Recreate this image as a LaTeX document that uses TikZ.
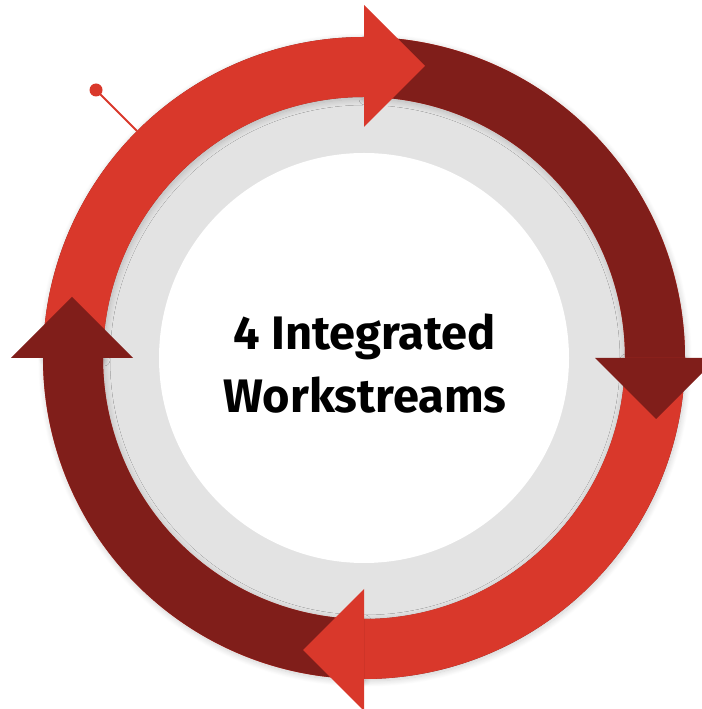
\documentclass[tikz,border=0pt]{standalone}
\usepackage{fontspec}
\setmainfont{Fira Sans}
\usetikzlibrary{calc,shadows.blur}
\definecolor{lred}{RGB}{217,56,43}
\definecolor{dred}{RGB}{128,30,26}
\definecolor{ringgray}{RGB}{227,227,227}
\tikzset{
  bandshadow/.style={blur shadow={shadow xshift=1pt, shadow yshift=-2pt, shadow blur radius=6pt, shadow blur steps=14, shadow opacity=20}},
  titletext/.style={font=\bfseries\fontsize{47}{63}\selectfont, align=center, text=black, inner sep=0pt},
}
\newcommand{\bandsector}[4]{% color, start angle, end angle, style
  \fill[#1,#4] ($(c)+(#2:321)$) arc[start angle=#2, end angle=#3, radius=321]
     -- ($(c)+(#3:261)$) arc[start angle=#3, end angle=#2, radius=261] -- cycle;}
\newcommand{\bandhead}[2]{% color, angle
  \fill[#1] ($(c)+(#2:231)$) -- ($(c)+(#2:353)$)
     -- ($(c)+(#2:292)+(#2-90:61)$) -- cycle;}
\begin{document}
\begin{tikzpicture}[x=1pt,y=1pt]
\useasboundingbox (0,0) rectangle (701,709);
\coordinate (c) at (364,351);
% gray ring and white centre
\fill[ringgray] (c) circle[radius=263];
\fill[white] (c) circle[radius=205];
% band shadows
\bandsector{dred}{0}{-90}{bandshadow}
\bandsector{lred}{-90}{-180}{bandshadow}
\bandsector{dred}{-180}{-270}{bandshadow}
\bandsector{lred}{90}{0}{bandshadow}
% band bodies: top light, right dark, bottom light, left dark
\bandsector{lred}{180}{89}{}
\bandsector{dred}{90}{-1}{}
\bandsector{lred}{0}{-91}{}
\bandsector{dred}{-90}{-181}{}
% heads
\bandhead{lred}{90}
\bandhead{dred}{0}
\bandhead{lred}{-90}
\bandhead{dred}{180}
% pin
\coordinate (pinend) at ($(c)+(135:321)$);
\node[circle, fill=lred, inner sep=0pt, minimum size=13pt] (pin) at ($(c)+(135:379)$) {};
\draw[lred, line width=2pt] (pin.center) -- (pinend);
% title
\node[titletext] (title) at (365,345) {4 Integrated\\Workstreams};
\end{tikzpicture}
\end{document}
